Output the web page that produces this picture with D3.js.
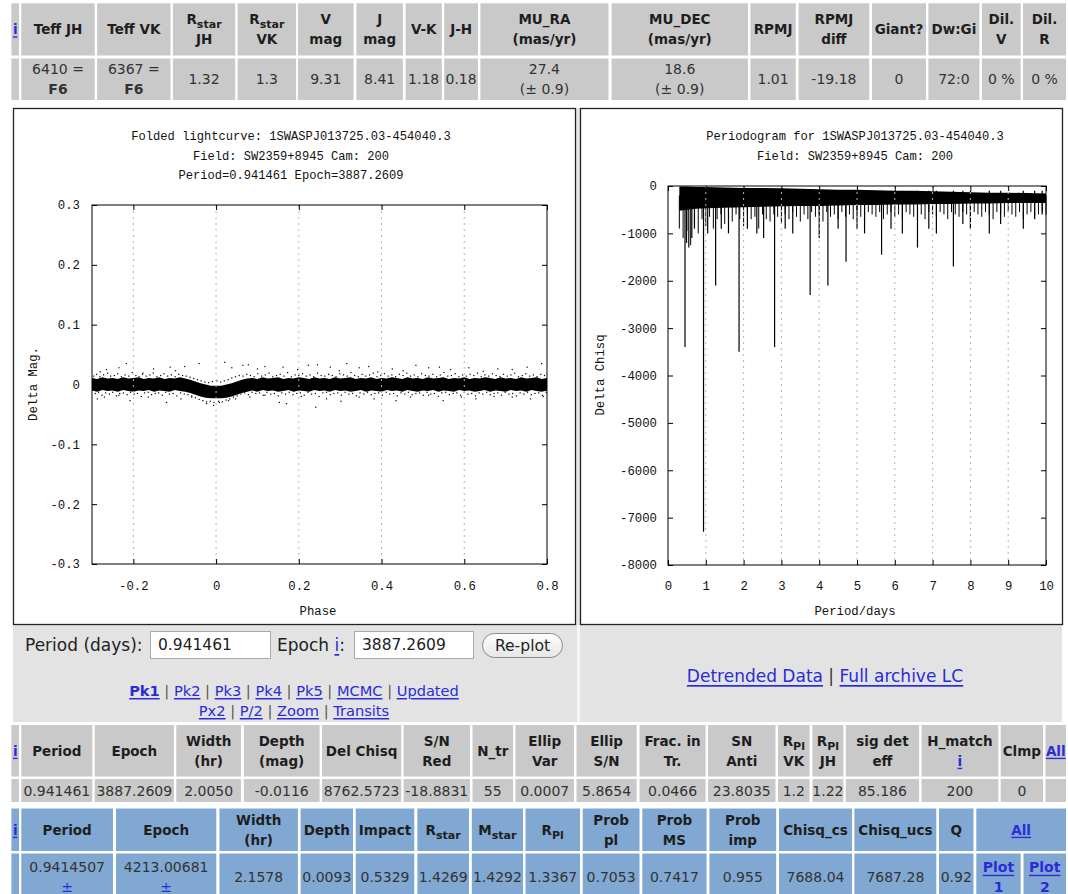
<!DOCTYPE html>
<html><head><meta charset="utf-8">
<script src="https://cdn.jsdelivr.net/npm/d3@7"></script>
<style>body{margin:0;background:#fff}svg{display:block}</style>
</head><body>
<script>
// ---------- candidate summary tables ----------
const starHeader = ["[i]","Teff JH","Teff VK","R_{star}\nJH","R_{star}\nVK","V\nmag","J\nmag","V-K","J-H","MU_RA\n(mas/yr)","MU_DEC\n(mas/yr)","RPMJ","RPMJ\ndiff","Giant?","Dw:Gi","Dil.\nV","Dil.\nR"];
const starValues = ["","6410 =\n*F6*","6367 =\n*F6*","1.32","1.3","9.31","8.41","1.18","0.18","27.4\n(± 0.9)","18.6\n(± 0.9)","1.01","-19.18","0","72:0","0 %","0 %"];

const peakHeader = ["[i]","Period","Epoch","Width\n(hr)","Depth\n(mag)","Del Chisq","S/N\nRed","N_tr","Ellip\nVar","Ellip\nS/N","Frac. in\nTr.","SN\nAnti","R_{Pl}\nVK","R_{Pl}\nJH","sig det\neff","H_match\n[i]","Clmp","[All]"];
const peakValues = ["","0.941461","3887.2609","2.0050","-0.0116","8762.5723","-18.8831","55","0.0007","5.8654","0.0466","23.8035","1.2","1.22","85.186","200","0",""];

const fitHeader = ["[i]","Period","Epoch","Width\n(hr)","Depth","Impact","R_{star}","M_{star}","R_{Pl}","Prob\npl","Prob\nMS","Prob\nimp","Chisq_cs","Chisq_ucs","Q","[All]"];
const fitValues = ["","0.9414507\n[±]","4213.00681\n[±]","2.1578","0.0093","0.5329","1.4269","1.4292","1.3367","0.7053","0.7417","0.955","7688.04","7687.28","0.92","*[Plot]*\n*[1]*","*[Plot]*\n*[2]*"];

// ---------- folded light curve ----------
const lcTitle = ["Folded lightcurve: 1SWASPJ013725.03-454040.3","Field: SW2359+8945 Cam: 200","Period=0.941461 Epoch=3887.2609"];
const lcXTicks = [-0.2, 0, 0.2, 0.4, 0.6, 0.8];
const lcYTicks = [-0.3, -0.2, -0.1, 0, 0.1, 0.2, 0.3];
// dense core of the folded photometry: phase, upper and lower edge (mag)
const lcPhase = [-0.3,-0.2875,-0.275,-0.2625,-0.25,-0.2375,-0.225,-0.2125,-0.2,-0.1875,-0.175,-0.1625,-0.15,-0.1375,-0.125,-0.1125,-0.1,-0.0875,
  -0.075,-0.0625,-0.05,-0.0375,-0.025,-0.0125,0,0.0125,0.025,0.0375,0.05,0.0625,0.075,
  0.0875,0.1,0.1125,0.125,0.1375,0.15,0.1625,0.175,0.1875,0.2,0.2125,0.225,0.2375,0.25,0.2625,0.275,0.2875,0.3,0.3125,0.325,0.3375,0.35,0.3625,
  0.375,0.3875,0.4,0.4125,0.425,0.4375,0.45,0.4625,0.475,0.4875,0.5,0.5125,0.525,0.5375,0.55,0.5625,0.575,0.5875,0.6,0.6125,0.625,0.6375,0.65,
  0.6625,0.675,0.6875,0.7,0.7125,0.725,0.7375,0.75,0.7625,0.775,0.7875,0.8];
const lcUpper = [0.011,0.009,0.012,0.010,0.011,0.009,0.012,0.010,0.011,0.012,0.009,0.011,0.010,0.012,0.009,0.011,0.010,0.012,
  0.010,0.008,0.005,0.002,0.000,-0.002,-0.002,-0.002,0.000,0.002,0.005,0.008,0.010,
  0.011,0.009,0.012,0.010,0.011,0.012,0.009,0.011,0.010,0.012,0.011,0.009,0.012,0.010,0.011,0.009,0.012,0.010,0.011,0.012,0.009,0.011,0.010,
  0.012,0.009,0.011,0.010,0.012,0.011,0.009,0.012,0.010,0.011,0.009,0.012,0.010,0.011,0.012,0.009,0.011,0.010,0.012,0.009,0.011,0.010,0.012,
  0.011,0.009,0.012,0.010,0.011,0.009,0.012,0.010,0.011,0.012,0.009,0.011];
const lcLower = [-0.010,-0.012,-0.009,-0.011,-0.010,-0.012,-0.009,-0.011,-0.012,-0.010,-0.011,-0.009,-0.012,-0.010,-0.011,-0.012,-0.009,-0.011,
  -0.012,-0.014,-0.017,-0.020,-0.022,-0.023,-0.023,-0.023,-0.022,-0.020,-0.017,-0.014,-0.012,
  -0.010,-0.012,-0.009,-0.011,-0.010,-0.012,-0.011,-0.009,-0.012,-0.010,-0.011,-0.012,-0.009,-0.011,-0.010,-0.012,-0.009,-0.011,-0.010,-0.012,-0.011,-0.009,-0.012,
  -0.010,-0.011,-0.012,-0.009,-0.011,-0.010,-0.012,-0.009,-0.011,-0.012,-0.010,-0.011,-0.009,-0.012,-0.010,-0.011,-0.012,-0.009,-0.011,-0.010,-0.012,-0.011,-0.009,
  -0.012,-0.010,-0.011,-0.012,-0.009,-0.011,-0.010,-0.012,-0.009,-0.011,-0.012,-0.010];
// loose measurements around the core: [phase, mag]
const lcFringe = [
  [-0.296,0.014],[-0.289,0.017],[-0.281,0.013],[-0.272,0.016],[-0.262,0.019],[-0.255,0.014],[-0.246,0.015],[-0.238,0.018],[-0.229,0.013],[-0.220,0.016],
  [-0.211,0.014],[-0.203,0.020],[-0.194,0.015],[-0.186,0.013],[-0.178,0.017],[-0.169,0.014],[-0.160,0.016],[-0.152,0.019],[-0.143,0.013],[-0.134,0.015],
  [-0.126,0.018],[-0.117,0.014],[-0.108,0.016],[-0.099,0.013],[-0.090,0.017],[-0.081,0.015],[-0.072,0.014],[-0.063,0.012],[-0.054,0.010],[-0.045,0.008],
  [-0.036,0.006],[-0.027,0.004],[-0.018,0.003],[-0.009,0.005],[0.002,0.006],[0.011,0.004],[0.020,0.006],[0.029,0.008],[0.038,0.011],[0.047,0.013],
  [0.056,0.015],[0.065,0.014],[0.074,0.017],[0.083,0.015],[0.092,0.013],[0.101,0.018],[0.110,0.014],[0.119,0.016],[0.128,0.019],[0.137,0.013],
  [0.146,0.015],[0.155,0.017],[0.164,0.014],[0.173,0.020],[0.182,0.013],[0.191,0.016],[0.200,0.015],[0.209,0.018],[0.218,0.014],[0.227,0.016],
  [0.236,0.013],[0.245,0.019],[0.254,0.015],[0.263,0.014],[0.272,0.017],[0.281,0.015],[0.290,0.013],[0.299,0.018],[0.308,0.016],[0.317,0.014],
  [0.326,0.020],[0.335,0.015],[0.344,0.013],[0.353,0.017],[0.362,0.014],[0.371,0.016],[0.380,0.019],[0.389,0.013],[0.398,0.015],[0.407,0.018],
  [0.416,0.014],[0.425,0.016],[0.434,0.013],[0.443,0.017],[0.452,0.015],[0.461,0.019],[0.470,0.014],[0.479,0.016],[0.488,0.013],[0.497,0.018],
  [0.506,0.015],[0.515,0.014],[0.524,0.017],[0.533,0.013],[0.542,0.016],[0.551,0.020],[0.560,0.014],[0.569,0.015],[0.578,0.018],[0.587,0.013],
  [0.596,0.016],[0.605,0.014],[0.614,0.017],[0.623,0.015],[0.632,0.019],[0.641,0.013],[0.650,0.016],[0.659,0.014],[0.668,0.018],[0.677,0.015],
  [0.686,0.013],[0.695,0.017],[0.704,0.014],[0.713,0.016],[0.722,0.019],[0.731,0.013],[0.740,0.015],[0.749,0.018],[0.758,0.014],[0.767,0.016],
  [0.776,0.013],[0.785,0.017],[0.794,0.015],
  [-0.292,-0.015],[-0.284,-0.013],[-0.276,-0.018],[-0.267,-0.014],[-0.258,-0.016],[-0.250,-0.013],[-0.241,-0.019],[-0.233,-0.015],[-0.224,-0.014],[-0.215,-0.017],
  [-0.207,-0.013],[-0.198,-0.016],[-0.190,-0.015],[-0.181,-0.020],[-0.173,-0.014],[-0.164,-0.013],[-0.156,-0.017],[-0.147,-0.015],[-0.139,-0.014],[-0.130,-0.018],
  [-0.122,-0.013],[-0.113,-0.016],[-0.104,-0.015],[-0.095,-0.019],[-0.086,-0.014],[-0.077,-0.016],[-0.068,-0.017],[-0.059,-0.019],[-0.050,-0.022],[-0.041,-0.025],
  [-0.032,-0.027],[-0.023,-0.029],[-0.014,-0.028],[-0.005,-0.030],[0.006,-0.028],[0.015,-0.029],[0.024,-0.026],[0.033,-0.024],[0.042,-0.021],[0.051,-0.019],
  [0.060,-0.016],[0.069,-0.014],[0.078,-0.017],[0.087,-0.013],[0.096,-0.015],[0.105,-0.014],[0.114,-0.018],[0.123,-0.013],[0.132,-0.016],[0.141,-0.015],
  [0.150,-0.019],[0.159,-0.014],[0.168,-0.016],[0.177,-0.013],[0.186,-0.017],[0.195,-0.015],[0.204,-0.014],[0.213,-0.018],[0.222,-0.013],[0.231,-0.016],
  [0.240,-0.015],[0.249,-0.020],[0.258,-0.014],[0.267,-0.013],[0.276,-0.017],[0.285,-0.015],[0.294,-0.014],[0.303,-0.018],[0.312,-0.013],[0.321,-0.016],
  [0.330,-0.015],[0.339,-0.019],[0.348,-0.014],[0.357,-0.016],[0.366,-0.013],[0.375,-0.017],[0.384,-0.015],[0.393,-0.014],[0.402,-0.018],[0.411,-0.013],
  [0.420,-0.016],[0.429,-0.015],[0.438,-0.019],[0.447,-0.014],[0.456,-0.016],[0.465,-0.013],[0.474,-0.017],[0.483,-0.015],[0.492,-0.014],[0.501,-0.018],
  [0.510,-0.013],[0.519,-0.016],[0.528,-0.015],[0.537,-0.020],[0.546,-0.014],[0.555,-0.013],[0.564,-0.017],[0.573,-0.015],[0.582,-0.014],[0.591,-0.018],
  [0.600,-0.013],[0.609,-0.016],[0.618,-0.015],[0.627,-0.019],[0.636,-0.014],[0.645,-0.016],[0.654,-0.013],[0.663,-0.017],[0.672,-0.015],[0.681,-0.014],
  [0.690,-0.018],[0.699,-0.013],[0.708,-0.016],[0.717,-0.015],[0.726,-0.019],[0.735,-0.014],[0.744,-0.016],[0.753,-0.013],[0.762,-0.017],[0.771,-0.015],
  [0.780,-0.014],[0.789,-0.018],[0.798,-0.013]
];
// isolated measurements further from the core: [phase, mag]
const lcOutliers = [
  [-0.280,0.021],[-0.265,0.025],[-0.235,0.028],[-0.217,0.035],[-0.177,0.019],[-0.151,0.026],[-0.111,0.029],[-0.098,0.023],
  [-0.076,0.030],[-0.041,0.035],[0.021,0.037],[0.038,0.028],[0.065,0.032],[0.078,0.033],[0.100,0.026],[0.118,0.030],
  [0.162,0.029],[0.197,0.025],[0.223,0.032],[0.245,0.033],[0.276,0.029],[0.298,0.023],[0.316,0.035],[0.346,0.028],
  [0.369,0.030],[0.391,0.021],[0.426,0.026],[0.452,0.023],[0.483,0.032],[0.514,0.028],[0.540,0.029],[0.567,0.025],
  [0.611,0.028],[0.646,0.022],[0.681,0.026],[0.716,0.025],[0.752,0.029],[0.787,0.035],
  [-0.287,-0.024],[-0.270,-0.021],[-0.235,-0.018],[-0.208,-0.027],[-0.164,-0.021],[-0.120,-0.030],[-0.085,-0.024],[-0.059,-0.021],
  [-0.023,-0.032],[-0.006,-0.035],[0.008,-0.030],[0.030,-0.027],[0.047,-0.024],[0.082,-0.021],[0.118,-0.018],[0.153,-0.030],
  [0.170,-0.032],[0.206,-0.020],[0.241,-0.038],[0.267,-0.024],[0.302,-0.028],[0.346,-0.021],[0.382,-0.024],[0.435,-0.027],
  [0.470,-0.021],[0.514,-0.018],[0.549,-0.027],[0.593,-0.021],[0.628,-0.024],[0.672,-0.020],[0.716,-0.021],[0.760,-0.024],[0.791,-0.020]
];

// ---------- periodogram ----------
const pgTitle = ["Periodogram for 1SWASPJ013725.03-454040.3","Field: SW2359+8945 Cam: 200"];
const pgXTicks = [0,1,2,3,4,5,6,7,8,9,10];
const pgYTicks = [0,-1000,-2000,-3000,-4000,-5000,-6000,-7000,-8000];
// solid noise floor of the periodogram: period, upper and lower edge
const pgEnvPeriod = [0.30,0.5,0.75,1,1.5,2,2.5,3,3.5,4,4.5,5,5.5,6,6.5,7,7.5,8,8.5,9,9.5,10];
const pgEnvTop = [-10,-10,-20,-20,-30,-40,-40,-50,-60,-70,-80,-80,-90,-100,-100,-110,-120,-130,-140,-140,-150,-160];
const pgEnvBottom = [-520,-500,-480,-470,-460,-450,-440,-430,-420,-420,-410,-400,-400,-390,-390,-380,-380,-370,-370,-360,-360,-360];
// fine structure hanging below the noise floor: [period, delta chisq]
const pgComb = [
  [0.3,-900],[0.4,-1100],[0.5,-950],[0.6,-1250],[0.7,-800],[0.8,-1000],[0.9,-700],[1.0,-850],[1.1,-650],[1.2,-900],
  [1.3,-700],[1.4,-600],[1.5,-800],[1.6,-650],[1.7,-750],[1.8,-600],[1.9,-700],[2.0,-850],[2.1,-600],[2.2,-700],
  [2.3,-650],[2.4,-900],[2.5,-600],[2.6,-700],[2.7,-750],[2.8,-600],[2.9,-650],[3.0,-800],[3.1,-600],[3.2,-700],
  [3.3,-550],[3.4,-650],[3.5,-750],[3.6,-600],[3.7,-700],[3.8,-550],[3.9,-650],[4.0,-600],[4.1,-750],[4.2,-550],
  [4.3,-650],[4.4,-600],[4.5,-700],[4.6,-550],[4.7,-650],[4.8,-600],[4.9,-700],[5.0,-550],[5.1,-650],[5.2,-800],
  [5.3,-550],[5.4,-600],[5.5,-650],[5.6,-550],[5.7,-700],[5.8,-600],[5.9,-550],[6.0,-650],[6.1,-600],[6.2,-700],
  [6.3,-550],[6.4,-600],[6.5,-650],[6.6,-550],[6.7,-600],[6.8,-700],[6.9,-550],[7.0,-600],[7.1,-650],[7.2,-550],
  [7.3,-600],[7.4,-700],[7.5,-550],[7.6,-600],[7.7,-650],[7.8,-550],[7.9,-600],[8.0,-700],[8.1,-550],[8.2,-600],
  [8.3,-650],[8.4,-550],[8.5,-600],[8.6,-700],[8.7,-550],[8.8,-600],[8.9,-650],[9.0,-550],[9.1,-600],[9.2,-650],
  [9.3,-550],[9.4,-700],[9.5,-600],[9.6,-550],[9.7,-650],[9.8,-600],[9.9,-550],[10.0,-600]
];
// deep individual minima: [period, delta chisq]
const pgSpikes = [
  [0.45,-3400],[0.49,-1200],[0.55,-1300],[0.63,-1100],[0.70,-900],[0.94,-7300],[1.05,-1000],[1.26,-2100],[1.41,-900],
  [1.60,-1000],[1.88,-3500],[2.10,-900],[2.35,-1000],[2.53,-1100],[2.82,-3400],[3.10,-900],[3.30,-1000],[3.76,-2300],
  [4.00,-1100],[4.23,-2100],[4.50,-900],[4.71,-1600],[5.00,-900],[5.20,-1000],[5.65,-1450],[5.90,-900],[6.20,-1000],
  [6.60,-1300],[6.90,-900],[7.10,-1000],[7.55,-1700],[7.80,-800],[8.00,-900],[8.50,-1000],[8.80,-800],[9.40,-900],[9.70,-700],[9.90,-600]
];

// ---------- page ----------
const W = 1068, H = 894;
const SANS = "'DejaVu Sans', Verdana, sans-serif";
const MONO = "'Liberation Mono', 'DejaVu Sans Mono', monospace";
const LINK = "#2b2bd9";
const GREY = "#c9c9c9", BLUE = "#80a8d2", PANEL = "#e3e3e3";

const svg = d3.select("body").append("svg").attr("width", W).attr("height", H);
svg.append("rect").attr("width", W).attr("height", H).attr("fill", "#fff");

// draw a (possibly multi-line) cell label; supports _{sub}, *bold*, [link]
function cellText(g, str, cx, cy, o) {
  const lines = str.split("\n");
  const lh = o.lh || 19;
  lines.forEach((ln, i) => {
    const y = cy + (i - (lines.length - 1) / 2) * lh;
    const t = g.append("text").attr("x", cx).attr("y", y)
      .attr("text-anchor", o.anchor || "middle").attr("dominant-baseline", "central")
      .attr("font-family", SANS).attr("font-size", o.size)
      .attr("font-weight", o.bold ? "bold" : "normal").attr("fill", o.color || "#222");
    let bold = false, shift = 0;
    const parts = ln.split(/(_\{[^}]*\}|\*|\[[^\]]*\])/).filter(s => s.length);
    parts.forEach(p => {
      if (p === "*") { bold = !bold; return; }
      const s = t.append("tspan");
      if (bold) s.attr("font-weight", "bold");
      if (p.startsWith("_{")) {
        s.attr("dy", 5 - shift).attr("font-size", o.size * 0.82).text(p.slice(2, -1)); shift = 5;
      } else if (p.startsWith("[")) {
        s.attr("dy", -shift).attr("fill", LINK).attr("text-decoration", "underline").text(p.slice(1, -1)); shift = 0;
      } else {
        s.attr("dy", -shift).text(p); shift = 0;
      }
    });
  });
}

function drawRow(g, cols, y0, y1, texts, fill, o) {
  cols.forEach((c, i) => {
    g.append("rect").attr("x", c[0]).attr("y", y0).attr("width", c[1] - c[0]).attr("height", y1 - y0).attr("fill", fill);
    if (texts[i]) cellText(g, texts[i], (c[0] + c[1]) / 2, (y0 + y1) / 2, o);
  });
}

// column extents (px)
const starCols = [[11.4,19],[21.3,94.7],[97.1,170.5],[172.9,235.2],[237.6,296.1],[297.9,353.6],[356.4,402.9],[405.6,441.8],[444.2,478],[480.4,608.5],[611.6,748],[750.4,795.8],[798.6,869.2],[872,926],[928.4,979.4],[982,1020.7],[1023,1066]];
const peakCols = [[11.4,19],[21.3,92.3],[94.7,173.9],[176.3,241],[243.8,319.6],[322,401.2],[403.6,470],[472.5,513],[515.5,574],[576.5,636.7],[639.5,705.6],[708,775.5],[778,809.6],[812.4,843.4],[845.8,919.1],[921.5,998.3],[1000.7,1043],[1045.5,1066]];
const fitCols = [[11.4,19],[21.3,113],[116,216.3],[219.4,297.9],[300.6,353],[355.7,414.3],[417.4,469],[471.8,523],[525.5,580],[582.7,639.5],[642.3,706.6],[709.4,776.2],[779,852],[854.4,936.3],[939,973.5],[976.3,1020.7],[1023.5,1066]];
const fitHeadCols = fitCols.slice(0, 15).concat([[976.3, 1066]]);

const tables = svg.append("g");
const hOpt = { size: 13.5, bold: true, color: "#1e1e1e", lh: 20 };
const vOpt = { size: 14, color: "#333", lh: 20 };
drawRow(tables, starCols, 3.3, 55.5, starHeader, GREY, hOpt);
drawRow(tables, starCols, 58.5, 100, starValues, GREY, vOpt);
drawRow(tables, peakCols, 725, 776.5, peakHeader, GREY, hOpt);
drawRow(tables, peakCols, 779, 802, peakValues, GREY, vOpt);
drawRow(tables, fitHeadCols, 808.5, 851, fitHeader, BLUE, hOpt);
drawRow(tables, fitCols, 853.5, 900, fitValues, BLUE, { size: 14, color: "#333", lh: 20 });

// ---------- plot panels ----------
svg.append("rect").attr("x", 13).attr("y", 625).attr("width", 1049).attr("height", 97).attr("fill", PANEL);
svg.append("rect").attr("x", 576).attr("y", 108).attr("width", 4).attr("height", 517).attr("fill", "#e6e6e6");
svg.append("rect").attr("x", 577).attr("y", 625).attr("width", 3).attr("height", 97).attr("fill", "#f6f6f6");
[[13.5, 108.5, 562, 516], [580.5, 108.5, 482, 516]].forEach(b =>
  svg.append("rect").attr("x", b[0]).attr("y", b[1]).attr("width", b[2]).attr("height", b[3])
    .attr("fill", "#fff").attr("stroke", "#222").attr("stroke-width", 1.3));

const TITLEFONT = 12.1, AXFONT = 12.3;
function gnuFrame(g, x, y, xt, yt, padX, padY) {
  const [x0, x1] = x.range(), [y1, y0] = y.range();
  // vertical dashed grid
  g.append("g").selectAll("line").data(xt.filter(v => x(v) > x0 + 1 && x(v) < x1 - 1)).join("line")
    .attr("x1", d => x(d)).attr("x2", d => x(d)).attr("y1", y0).attr("y2", y1)
    .attr("stroke", "#b4b4b4").attr("stroke-width", 1).attr("stroke-dasharray", "2,4");
  const fmt = d => String(d);
  const ax = (gen, tx, ty, labels, pad) => {
    const a = g.append("g").attr("transform", `translate(${tx},${ty})`)
      .call(gen.tickValues(labels ? labels : gen.tickValues()).tickSizeInner(-5).tickSizeOuter(0).tickPadding(labels ? pad : 0)
        .tickFormat(labels ? fmt : () => ""));
    a.select(".domain").remove();
    a.selectAll("line").attr("stroke", "#000");
    a.selectAll("text").attr("font-family", MONO).attr("font-size", AXFONT).attr("fill", "#111");
    return a;
  };
  ax(d3.axisBottom(x), 0, y1, xt, padX);
  ax(d3.axisTop(x).tickValues(xt), 0, y0, null);
  ax(d3.axisLeft(y), x0, 0, yt, padY);
  ax(d3.axisRight(y).tickValues(yt), x1, 0, null);
  g.append("rect").attr("x", x0).attr("y", y0).attr("width", x1 - x0).attr("height", y1 - y0)
    .attr("fill", "none").attr("stroke", "#000").attr("stroke-width", 1);
}

function plotTitle(g, lines, cx, y0) {
  lines.forEach((t, i) => g.append("text").attr("x", cx).attr("y", y0 + i * 19.5)
    .attr("text-anchor", "middle").attr("dominant-baseline", "central")
    .attr("font-family", MONO).attr("font-size", TITLEFONT).attr("fill", "#111").text(t));
}
function plotLabel(g, t, x, y, rot) {
  g.append("text").attr("transform", `translate(${x},${y})` + (rot ? " rotate(-90)" : ""))
    .attr("text-anchor", "middle").attr("dominant-baseline", "central")
    .attr("font-family", MONO).attr("font-size", AXFONT).attr("fill", "#111").text(t);
}

// --- folded light curve ---
const lc = svg.append("g");
const xL = d3.scaleLinear().domain([-0.3, 0.8]).range([92, 547]);
const yL = d3.scaleLinear().domain([-0.3, 0.3]).range([564, 205]);
plotTitle(lc, lcTitle, 291, 137);
lc.append("path").datum(lcPhase.map((p, i) => ({ p, hi: lcUpper[i], lo: lcLower[i] })))
  .attr("d", d3.area().x(d => xL(d.p)).y0(d => yL(d.lo)).y1(d => yL(d.hi)))
  .attr("fill", "#000");
lc.append("g").selectAll("rect").data(lcFringe.concat(lcOutliers)).join("rect")
  .attr("x", d => xL(d[0]) - 0.6).attr("y", d => yL(d[1]) - 0.6).attr("width", 1.2).attr("height", 1.2).attr("fill", "#000");
gnuFrame(lc, xL, yL, lcXTicks, lcYTicks, 17, 12);
plotLabel(lc, "Phase", 318, 612);
plotLabel(lc, "Delta Mag.", 34, 384, true);

// --- periodogram ---
const pg = svg.append("g");
const xR = d3.scaleLinear().domain([0, 10]).range([668, 1046]);
const yR = d3.scaleLinear().domain([-8000, 0]).range([565, 186]);
plotTitle(pg, pgTitle, 855, 137);
pg.append("path").datum(pgEnvPeriod.map((p, i) => ({ p, t: pgEnvTop[i], b: pgEnvBottom[i] })))
  .attr("d", d3.area().x(d => xR(d.p)).y0(d => yR(d.b)).y1(d => yR(d.t)))
  .attr("fill", "#000");
pg.append("g").selectAll("line").data(pgComb).join("line")
  .attr("x1", d => xR(d[0])).attr("x2", d => xR(d[0])).attr("y1", yR(-200)).attr("y2", d => yR(d[1]))
  .attr("stroke", "#000").attr("stroke-width", 1);
pg.append("g").selectAll("line").data(pgSpikes).join("line")
  .attr("x1", d => xR(d[0])).attr("x2", d => xR(d[0])).attr("y1", yR(-100)).attr("y2", d => yR(d[1]))
  .attr("stroke", "#000").attr("stroke-width", 1.2);
gnuFrame(pg, xR, yR, pgXTicks, pgYTicks, 16, 11);
plotLabel(pg, "Period/days", 855, 612);
plotLabel(pg, "Delta Chisq", 601, 375, true);

// ---------- re-plot form ----------
const form = svg.append("g");
const ft = (x, y, s, size, anchor) => form.append("text").attr("x", x).attr("y", y).attr("dominant-baseline", "central")
  .attr("text-anchor", anchor || "start").attr("font-family", SANS).attr("font-size", size).attr("fill", "#222").text(s);
ft(25, 645, "Period (days):", 17);
form.append("rect").attr("x", 150.5).attr("y", 631.5).attr("width", 120).attr("height", 27).attr("fill", "#fff").attr("stroke", "#aaa");
ft(158, 645, "0.941461", 15.5);
cellText(form, "Epoch [i]:", 277, 645, { size: 17, anchor: "start", color: "#222" });
form.append("rect").attr("x", 354.5).attr("y", 631.5).attr("width", 119).attr("height", 27).attr("fill", "#fff").attr("stroke", "#aaa");
ft(362, 645, "3887.2609", 15.5);
const grad = svg.append("defs").append("linearGradient").attr("id", "btn").attr("x1", 0).attr("x2", 0).attr("y1", 0).attr("y2", 1);
grad.append("stop").attr("offset", 0).attr("stop-color", "#ffffff");
grad.append("stop").attr("offset", 1).attr("stop-color", "#e6e6e6");
form.append("rect").attr("x", 482.5).attr("y", 633.5).attr("width", 80).attr("height", 24).attr("rx", 12)
  .attr("fill", "url(#btn)").attr("stroke", "#8a8a8a");
ft(522.5, 645.5, "Re-plot", 15.6, "middle");
cellText(form, "*[Pk1]* | [Pk2] | [Pk3] | [Pk4] | [Pk5] | [MCMC] | [Updated]", 294, 690, { size: 14.6, color: "#555" });
cellText(form, "[Px2] | [P/2] | [Zoom] | [Transits]", 294, 710, { size: 14.6, color: "#555" });
cellText(form, "[Detrended Data] | [Full archive LC]", 825, 676, { size: 17, color: "#333" });
</script>
</body></html>
